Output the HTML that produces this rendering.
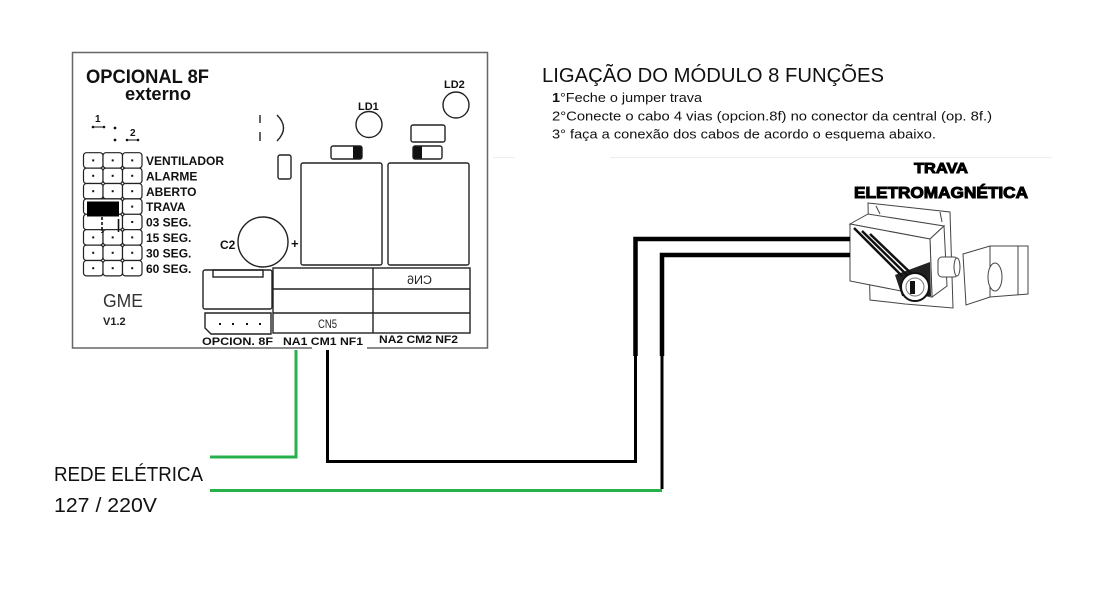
<!DOCTYPE html>
<html><head><meta charset="utf-8"><style>
html,body{margin:0;padding:0;background:#fff;}
svg{display:block;}
text{font-family:"Liberation Sans",Arial,sans-serif;}
</style></head><body>
<svg width="1101" height="607" viewBox="0 0 1101 607" xmlns="http://www.w3.org/2000/svg">
<rect width="1101" height="607" fill="#fff"/>
<!-- faint line -->
<line x1="493" y1="157.5" x2="515" y2="157.5" stroke="#eee" stroke-width="1"/>
<line x1="610" y1="157.5" x2="1052" y2="157.5" stroke="#eee" stroke-width="1"/>

<!-- board outline -->
<path d="M312,348 H72.5 V52.5 H487.5 V348 H367" fill="none" stroke="#666" stroke-width="1.5"/>

<text x="86" y="83" font-size="19" font-weight="bold" textLength="123" lengthAdjust="spacingAndGlyphs" fill="#111">OPCIONAL 8F</text>
<text x="125" y="100" font-size="18" font-weight="bold" textLength="66" lengthAdjust="spacingAndGlyphs" fill="#111">externo</text>

<!-- jumper marks -->
<text x="95" y="122" font-size="10" font-weight="bold" fill="#111">1</text>
<line x1="93" y1="127" x2="104" y2="127" stroke="#111" stroke-width="1"/>
<circle cx="93" cy="127" r="1.3" fill="#111"/><circle cx="104" cy="127" r="1.3" fill="#111"/>
<circle cx="115" cy="128" r="1.4" fill="#111"/><circle cx="115" cy="140" r="1.4" fill="#111"/>
<text x="130" y="136" font-size="10" font-weight="bold" fill="#111">2</text>
<line x1="127" y1="140" x2="138" y2="140" stroke="#111" stroke-width="1"/>
<circle cx="127" cy="140" r="1.3" fill="#111"/><circle cx="138" cy="140" r="1.3" fill="#111"/>

<!-- grid -->
<g fill="#fff" stroke="#222" stroke-width="1.2">
<rect x="83.5" y="152.7" width="19.5" height="15.4" rx="3"/><rect x="103" y="152.7" width="19.5" height="15.4" rx="3"/><rect x="122.5" y="152.7" width="19.5" height="15.4" rx="3"/>
<rect x="83.5" y="168.1" width="19.5" height="15.4" rx="3"/><rect x="103" y="168.1" width="19.5" height="15.4" rx="3"/><rect x="122.5" y="168.1" width="19.5" height="15.4" rx="3"/>
<rect x="83.5" y="183.5" width="19.5" height="15.4" rx="3"/><rect x="103" y="183.5" width="19.5" height="15.4" rx="3"/><rect x="122.5" y="183.5" width="19.5" height="15.4" rx="3"/>
<rect x="83.5" y="198.9" width="39" height="15.4" rx="3"/><rect x="122.5" y="198.9" width="19.5" height="15.4" rx="3"/>
<rect x="83.5" y="214.3" width="39" height="15.4" rx="3"/><rect x="122.5" y="214.3" width="19.5" height="15.4" rx="3"/>
<rect x="83.5" y="229.7" width="19.5" height="15.4" rx="3"/><rect x="103" y="229.7" width="19.5" height="15.4" rx="3"/><rect x="122.5" y="229.7" width="19.5" height="15.4" rx="3"/>
<rect x="83.5" y="245.1" width="19.5" height="15.4" rx="3"/><rect x="103" y="245.1" width="19.5" height="15.4" rx="3"/><rect x="122.5" y="245.1" width="19.5" height="15.4" rx="3"/>
<rect x="83.5" y="260.5" width="19.5" height="15.4" rx="3"/><rect x="103" y="260.5" width="19.5" height="15.4" rx="3"/><rect x="122.5" y="260.5" width="19.5" height="15.4" rx="3"/>
</g>
<rect x="87" y="201.5" width="32" height="15" fill="#000"/>
<line x1="102" y1="217" x2="102" y2="233" stroke="#111" stroke-width="1.6" stroke-dasharray="3,2"/>
<line x1="118.5" y1="219" x2="118.5" y2="232" stroke="#111" stroke-width="1.6"/>
<g fill="#111">
<rect x="92.2" y="159.4" width="2" height="2"/><rect x="111.7" y="159.4" width="2" height="2"/><rect x="131.2" y="159.4" width="2" height="2"/>
<rect x="92.2" y="174.8" width="2" height="2"/><rect x="111.7" y="174.8" width="2" height="2"/><rect x="131.2" y="174.8" width="2" height="2"/>
<rect x="92.2" y="190.2" width="2" height="2"/><rect x="111.7" y="190.2" width="2" height="2"/><rect x="131.2" y="190.2" width="2" height="2"/>
<rect x="131.2" y="205.6" width="2" height="2"/>
<rect x="131.2" y="221" width="2" height="2"/>
<rect x="92.2" y="236.4" width="2" height="2"/><rect x="111.7" y="236.4" width="2" height="2"/><rect x="131.2" y="236.4" width="2" height="2"/>
<rect x="92.2" y="251.8" width="2" height="2"/><rect x="111.7" y="251.8" width="2" height="2"/><rect x="131.2" y="251.8" width="2" height="2"/>
<rect x="92.2" y="267.2" width="2" height="2"/><rect x="111.7" y="267.2" width="2" height="2"/><rect x="131.2" y="267.2" width="2" height="2"/>
</g>
<g font-size="12" font-weight="bold" fill="#111">
<text x="146" y="165">VENTILADOR</text>
<text x="146" y="180.4">ALARME</text>
<text x="146" y="195.8">ABERTO</text>
<text x="146" y="211.2">TRAVA</text>
<text x="146" y="226.6">03 SEG.</text>
<text x="146" y="242">15 SEG.</text>
<text x="146" y="257.4">30 SEG.</text>
<text x="146" y="272.8">60 SEG.</text>
</g>
<text x="103" y="307" font-size="18" textLength="40" lengthAdjust="spacingAndGlyphs" fill="#333">GME</text>
<text x="103" y="325" font-size="11" font-weight="bold" fill="#222">V1.2</text>

<!-- components -->
<g fill="none" stroke="#222" stroke-width="1.4">
<line x1="260" y1="115" x2="260" y2="123"/>
<line x1="260" y1="132" x2="260" y2="141"/>
<path d="M277,115 Q290,128 277,141"/>
<rect x="278" y="155" width="13" height="24" rx="2"/>
<circle cx="369" cy="124.5" r="13"/>
<circle cx="456" cy="105" r="13"/>
<rect x="411" y="125" width="34" height="17" rx="2"/>
<rect x="331" y="146" width="31" height="13" rx="2"/>
<rect x="413" y="146" width="29" height="13" rx="2"/>
<rect x="301" y="163" width="81" height="102" rx="2"/>
<rect x="388" y="163" width="81" height="102" rx="2"/>
<circle cx="263" cy="242" r="25"/>
<rect x="203" y="270" width="69" height="39" rx="2"/>
<rect x="213" y="270" width="50" height="7"/>
<rect x="273" y="268" width="197" height="65"/>
<line x1="373" y1="268" x2="373" y2="333"/>
<line x1="273" y1="289" x2="470" y2="289"/>
<line x1="273" y1="313" x2="470" y2="313"/>
<path d="M205,313 H271 V334 H211 L205,328 Z"/>
</g>
<rect x="353" y="146.5" width="8.5" height="12" fill="#111"/>
<rect x="413.5" y="146.5" width="8.5" height="12" fill="#111"/>
<g fill="#111"><rect x="219" y="323" width="2" height="2"/><rect x="232" y="323" width="2" height="2"/><rect x="246" y="323" width="2" height="2"/><rect x="259" y="323" width="2" height="2"/></g>
<text x="358" y="110" font-size="11" font-weight="bold" fill="#111">LD1</text>
<text x="444" y="88" font-size="11" font-weight="bold" fill="#111">LD2</text>
<text x="220" y="249" font-size="12" font-weight="bold" fill="#111">C2</text>
<text x="291" y="248" font-size="13" font-weight="bold" fill="#111">+</text>
<text transform="translate(432,284) scale(-1,1)" x="0" y="0" font-size="12" textLength="25" lengthAdjust="spacingAndGlyphs" fill="#222">CN6</text>
<text x="318" y="328" font-size="12" textLength="19" lengthAdjust="spacingAndGlyphs" fill="#222">CN5</text>
<text x="202" y="345" font-size="11" font-weight="bold" textLength="71" lengthAdjust="spacingAndGlyphs" fill="#111">OPCION. 8F</text>
<text x="283" y="345" font-size="11" font-weight="bold" textLength="80" lengthAdjust="spacingAndGlyphs" fill="#111">NA1 CM1 NF1</text>
<text x="379" y="343" font-size="11" font-weight="bold" textLength="79" lengthAdjust="spacingAndGlyphs" fill="#111">NA2 CM2 NF2</text>

<!-- title & instructions -->
<text x="542" y="82" font-size="20" textLength="342" lengthAdjust="spacingAndGlyphs" fill="#111">LIGAÇÃO DO MÓDULO 8 FUNÇÕES</text>
<text x="552" y="102" font-size="13" textLength="150" lengthAdjust="spacingAndGlyphs" fill="#111"><tspan font-weight="bold">1</tspan>°Feche o jumper trava</text>
<text x="552" y="120.5" font-size="13" textLength="440" lengthAdjust="spacingAndGlyphs" fill="#111">2°Conecte o cabo 4 vias (opcion.8f) no conector da central (op. 8f.)</text>
<text x="552" y="138.5" font-size="13" textLength="384" lengthAdjust="spacingAndGlyphs" fill="#111">3° faça a conexão dos cabos de acordo o esquema abaixo.</text>

<!-- TRAVA label -->
<text x="914" y="173" font-size="15" font-weight="bold" textLength="54" lengthAdjust="spacingAndGlyphs" fill="#000" stroke="#000" stroke-width="1">TRAVA</text>
<text x="854" y="198" font-size="16" font-weight="bold" textLength="174" lengthAdjust="spacingAndGlyphs" fill="#000" stroke="#000" stroke-width="1">ELETROMAGNÉTICA</text>

<!-- lock drawing -->
<g fill="#fff" stroke="#444" stroke-width="1">
<path d="M868,203 L950,212 L953,308 L905,304 L870,300 Z"/>
<path d="M876,206 L880,214 M940,212 L942,222"/>
<path d="M850,224 L868,214 L944,226 L930,239 Z"/>
<path d="M930,239 L944,226 L947,286 L932,297 Z"/>
<path d="M850,224 L930,239 L932,297 L850,281 Z"/>
<rect x="938" y="257" width="20" height="20" rx="4"/>
<ellipse cx="957" cy="267" rx="3" ry="9"/>
<path d="M963,254 L990,246 L1028,246 L1028,294 L990,297 L966,305 Z"/>
<path d="M990,246 L990,297 M1018,246 L1018,295"/>
<ellipse cx="995" cy="277" rx="7" ry="14"/>
</g>
<path d="M895,275 L930,262 L931,296 L902,296 Z" fill="#222"/>
<g stroke="#111" stroke-width="2.5">
<line x1="854" y1="228" x2="902" y2="276"/>
<line x1="862" y1="231" x2="910" y2="278"/>
<line x1="870" y1="234" x2="918" y2="280"/>
</g>
<circle cx="915" cy="287" r="14" fill="#fff" stroke="#111" stroke-width="2"/>
<circle cx="915" cy="287" r="9" fill="#fff" stroke="#777" stroke-width="1"/>
<rect x="910" y="281" width="5" height="13" fill="#111"/>

<!-- wires -->
<g fill="none" stroke-linejoin="miter">
<path d="M296,350 V457 H210" stroke="#27b04b" stroke-width="3"/>
<path d="M210,490.5 H662" stroke="#27b04b" stroke-width="3"/>
<path d="M327.5,350 V461.5 H635.5 V350" stroke="#000" stroke-width="3"/>
<path d="M662,489 V350" stroke="#000" stroke-width="3"/>
<path d="M635.5,356 V239 H850" stroke="#000" stroke-width="4.5"/>
<path d="M662,356 V255 H850" stroke="#000" stroke-width="4.5"/>
</g>

<text x="54" y="481" font-size="20" textLength="149" lengthAdjust="spacingAndGlyphs" fill="#111">REDE ELÉTRICA</text>
<text x="54" y="512" font-size="20" textLength="103" lengthAdjust="spacingAndGlyphs" fill="#111">127 / 220V</text>
</svg>
</body></html>
